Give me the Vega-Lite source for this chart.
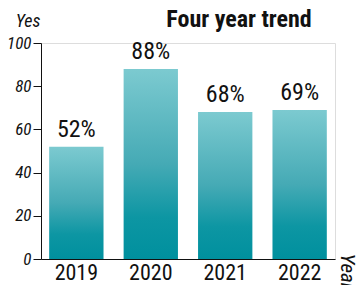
{
  "$schema": "https://vega.github.io/schema/vega-lite/v6.json",
  "width": 294,
  "height": 216,
  "autosize": {"type": "none"},
  "padding": {"left": 41, "top": 43, "right": 23, "bottom": 26},
  "background": "white",
  "config": {"font": "'Roboto Condensed', 'DejaVu Sans Condensed', Roboto, sans-serif"},
  "title": {
    "text": "Four year trend",
    "anchor": "middle",
    "frame": "group",
    "dx": 51,
    "offset": -20,
    "font": "'Roboto Condensed', 'DejaVu Sans Condensed', Roboto, sans-serif",
    "fontSize": 24,
    "fontWeight": "bold",
    "color": "#111111"
  },
  "data": {
    "values": [
      {"Year": "2019", "Yes": 52, "label": "52%"},
      {"Year": "2020", "Yes": 88, "label": "88%"},
      {"Year": "2021", "Yes": 68, "label": "68%"},
      {"Year": "2022", "Yes": 69, "label": "69%"}
    ]
  },
  "encoding": {
    "x": {
      "field": "Year",
      "type": "nominal",
      "sort": null,
      "scale": {"paddingInner": 0.27, "paddingOuter": 0.11},
      "axis": {
        "title": "Year",
        "titleAngle": 90,
        "titleX": 305,
        "titleY": -6,
        "titleAlign": "left",
        "titleBaseline": "middle",
        "titleFontStyle": "italic",
        "titleFontWeight": "normal",
        "titleFontSize": 21,
        "titleColor": "#111111",
        "labelAngle": 0,
        "labelFontSize": 22,
        "labelColor": "#111111",
        "labelPadding": 3,
        "ticks": false,
        "domainColor": "#111111",
        "domainWidth": 1
      }
    },
    "y": {
      "field": "Yes",
      "type": "quantitative",
      "scale": {"domain": [0, 100], "nice": false},
      "axis": {
        "title": "Yes",
        "titleAngle": 0,
        "titleX": -1,
        "titleY": -17,
        "titleAlign": "right",
        "titleBaseline": "alphabetic",
        "titleFontStyle": "italic",
        "titleFontWeight": "normal",
        "titleFontSize": 18,
        "titleColor": "#111111",
        "values": [0, 20, 40, 60, 80, 100],
        "grid": false,
        "tickSize": 8,
        "tickColor": "#111111",
        "domainColor": "#111111",
        "labelFontStyle": "italic",
        "labelFontSize": 17,
        "labelColor": "#111111",
        "labelPadding": 2
      }
    }
  },
  "layer": [
    {
      "mark": {
        "type": "bar",
        "color": {
          "gradient": "linear",
          "x1": 0, "y1": 0, "x2": 0, "y2": 1,
          "stops": [
            {"offset": 0, "color": "#7ccad0"},
            {"offset": 0.5, "color": "#45aab5"},
            {"offset": 0.78, "color": "#0d96a3"},
            {"offset": 1, "color": "#00909e"}
          ]
        }
      }
    },
    {
      "mark": {
        "type": "text",
        "dy": -10,
        "baseline": "alphabetic",
        "fontSize": 24,
        "color": "#111111"
      },
      "encoding": {"text": {"field": "label"}}
    }
  ]
}
